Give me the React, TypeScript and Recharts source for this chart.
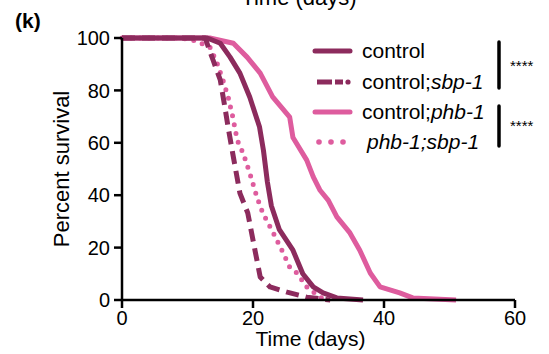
import React from "react";
import { LineChart, Line, XAxis, YAxis } from "recharts";

// Kaplan-Meier style survival curves
const controlDays = [0, 13, 15, 16.5, 18, 19.5, 21, 21.6, 22.2, 22.8, 24, 26.1, 27.6, 29.2, 30.7, 32.8, 36.8];
const controlSurv = [100, 100, 98, 92.7, 86.6, 77.5, 66, 57, 45, 36, 27, 19, 10, 5, 2.7, 0.8, 0];

const sbpDays = [0, 12.7, 13.4, 13.9, 15, 15.7, 16.2, 16.9, 18, 19.2, 20.3, 21.1, 22.6, 25.2, 28.2, 31.8];
const sbpSurv = [100, 100, 95, 91.6, 84, 73.7, 66, 56, 40.8, 33.2, 19, 8.8, 5, 3, 1.1, 0];

const phbDays = [0, 13.4, 17, 19.1, 21.1, 23, 25.6, 26.1, 28.2, 29.2, 30.2, 31.5, 32.8, 34.8, 36.3, 37.9, 39.4, 42.4, 44.4, 51];
const phbSurv = [100, 100, 98, 92.7, 86.6, 77.5, 69.8, 62, 53.4, 47, 42, 38, 31.7, 25.6, 19, 10.3, 5, 2.7, 0.8, 0];

const phbSbpDays = [0, 9, 11, 13.4, 14.5, 15.4, 16.2, 16.9, 17.6, 18.5, 19.5, 20.6, 21.5, 23.1, 24.6, 25.6, 26.7, 28.2, 30.2, 31.5];
const phbSbpSurv = [100, 100, 99, 96.6, 90.5, 84, 77.5, 70, 61, 56, 48.5, 39.3, 33.2, 25.6, 18, 12.6, 10.3, 5, 1.1, 0];

const xTicks = [0, 20, 40, 60];
const yTicks = [0, 20, 40, 60, 80, 100];

const DARK = "#8C2B5D";
const PINK = "#DE5C9E";
const FONT = "'Liberation Sans', Arial, Helvetica, sans-serif";

const toRows = (days: number[], surv: number[]) => days.map((d, i) => ({ day: d, surv: surv[i] }));

const series = [
  { name: "control;phb-1", rows: toRows(phbDays, phbSurv), color: PINK, dash: undefined, cap: "butt" },
  { name: "phb-1;sbp-1", rows: toRows(phbSbpDays, phbSbpSurv), color: PINK, dash: "0 9", cap: "round" },
  { name: "control;sbp-1", rows: toRows(sbpDays, sbpSurv), color: DARK, dash: "13 7", cap: "butt" },
  { name: "control", rows: toRows(controlDays, controlSurv), color: DARK, dash: undefined, cap: "butt" },
];

const axisStroke = { stroke: "#000", strokeWidth: 2.5 };
const tickStyle = { fill: "#000", fontSize: 20, fontFamily: FONT };

function Overlay() {
  const rowY = [51, 82, 112, 142];
  const sx = 315;
  const tx = 362;
  const txt = { fontFamily: FONT, fontSize: 21, fill: "#000" };
  return (
    <svg width={549} height={354} style={{ position: "absolute", left: 0, top: 0, pointerEvents: "none" }}>
      <text x={299} y={5} textAnchor="middle" style={{ ...txt, fontSize: 22 }}>Time (days)</text>
      <text x={15} y={28} style={{ ...txt, fontSize: 21, fontWeight: "bold" }}>(k)</text>

      <line x1={sx} x2={sx + 35} y1={rowY[0]} y2={rowY[0]} stroke={DARK} strokeWidth={5} strokeLinecap="round" />
      <line x1={sx + 2} x2={sx + 28} y1={rowY[1]} y2={rowY[1]} stroke={DARK} strokeWidth={5} strokeDasharray="15 3 8 100" />
      <circle cx={sx + 33} cy={rowY[1]} r={2.6} fill={DARK} />
      <line x1={sx} x2={sx + 35} y1={rowY[2]} y2={rowY[2]} stroke={PINK} strokeWidth={5} strokeLinecap="round" />
      {[4, 16, 28].map((d) => (
        <circle key={d} cx={sx + d} cy={rowY[3]} r={2.8} fill={PINK} />
      ))}

      <text x={tx} y={rowY[0]} dy="0.35em" style={txt}>control</text>
      <text x={tx} y={rowY[1]} dy="0.35em" style={txt}>
        control;<tspan fontStyle="italic">sbp-1</tspan>
      </text>
      <text x={tx} y={rowY[2]} dy="0.35em" style={txt}>
        control;<tspan fontStyle="italic">phb-1</tspan>
      </text>
      <text x={tx + 5} y={rowY[3]} dy="0.35em" style={{ ...txt, fontStyle: "italic" }}>phb-1;sbp-1</text>

      <line x1={499} x2={499} y1={42} y2={88} stroke="#000" strokeWidth={3.5} strokeLinecap="round" />
      <line x1={499} x2={499} y1={106} y2={146} stroke="#000" strokeWidth={3.5} strokeLinecap="round" />
      <text x={510} y={71} style={{ ...txt, fontSize: 15 }}>****</text>
      <text x={510} y={131} style={{ ...txt, fontSize: 15 }}>****</text>
    </svg>
  );
}

export default function App() {
  return (
    <div style={{ position: "absolute", left: 0, top: 0, width: 549, height: 354, background: "#fff" }}>
      <LineChart width={549} height={354} margin={{ top: 38, right: 34, bottom: 0, left: 62 }}>
        <XAxis
          type="number"
          dataKey="day"
          domain={[0, 60]}
          ticks={xTicks}
          height={54}
          axisLine={axisStroke}
          tickLine={axisStroke}
          tickSize={8}
          tickMargin={3}
          tick={tickStyle}
          label={{
            content: (p: any) => {
              const vb = p.viewBox;
              return (
                <text x={vb.x + vb.width / 2 - 8} y={vb.y + 46} textAnchor="middle" style={{ fontFamily: FONT, fontSize: 21, fill: "#000" }}>
                  Time (days)
                </text>
              );
            },
          }}
        />
        <YAxis
          type="number"
          domain={[0, 100]}
          ticks={yTicks}
          width={60}
          axisLine={axisStroke}
          tickLine={axisStroke}
          tickSize={8}
          tickMargin={4}
          tick={tickStyle}
          label={{
            content: (p: any) => {
              const vb = p.viewBox;
              const cx = vb.x - 1;
              const cy = vb.y + vb.height / 2;
              return (
                <text x={cx} y={cy} dy="0.35em" textAnchor="middle" transform={`rotate(-90 ${cx} ${cy})`} style={{ fontFamily: FONT, fontSize: 22, fill: "#000" }}>
                  Percent survival
                </text>
              );
            },
          }}
        />
        {series.map((s) => (
          <Line
            key={s.name}
            data={s.rows}
            dataKey="surv"
            name={s.name}
            type="linear"
            stroke={s.color}
            strokeWidth={5}
            strokeDasharray={s.dash}
            strokeLinecap={s.cap as any}
            strokeLinejoin="round"
            dot={false}
            activeDot={false}
            isAnimationActive={false}
          />
        ))}
      </LineChart>
      <Overlay />
    </div>
  );
}
